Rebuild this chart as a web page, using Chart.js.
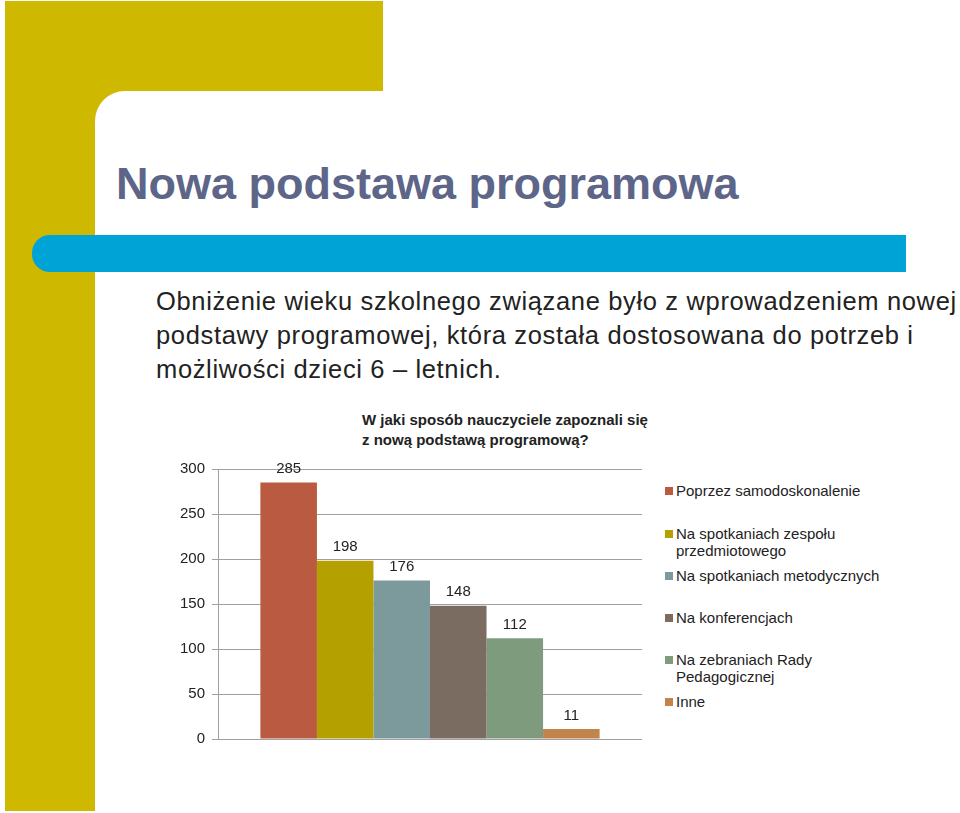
<!DOCTYPE html>
<html>
<head>
<meta charset="utf-8">
<script src="https://cdn.jsdelivr.net/npm/chart.js@4/dist/chart.umd.min.js"></script>
<style>
    body { margin: 0; width: 960px; height: 813px; background: #fff; position: relative; overflow: hidden;
           font-family: "Liberation Sans", Arial, sans-serif; }
    .deco { position: absolute; }
    #frameTop { left: 5px; top: 1px; width: 378px; height: 90px; background: #cfb800; }
    #frameLeft { left: 5px; top: 1px; width: 90px; height: 810px; background: #cfb800; }
    #cornerFill { left: 95px; top: 91px; width: 30px; height: 30px; background: #cfb800; }
    #corner { left: 95px; top: 91px; width: 60px; height: 60px; background: #fff; border-top-left-radius: 30px; }
    #blueBar { left: 32px; top: 235px; width: 874px; height: 37px; background: #00a3d5; border-radius: 18px 0 0 18px; }
    #title { position: absolute; left: 116px; top: 158px; font-size: 45px; font-weight: bold; color: #5d6588; white-space: nowrap; }
    #body { position: absolute; left: 156px; top: 284px; font-size: 25.5px; letter-spacing: 0.65px; line-height: 34px; color: #222; white-space: nowrap; }
    #chartTitle { position: absolute; left: 362px; top: 410px; font-size: 15px; font-weight: bold; line-height: 20px; color: #222; }
    #chartBox { position: absolute; left: 150px; top: 440px; width: 510px; height: 315px; }
    #legend { position: absolute; left: 665px; top: 482px; font-size: 15px; color: #222; }
    .item { position: absolute; left: 0; white-space: nowrap; line-height: 17px; }
    .sw { display: inline-block; width: 8px; height: 8px; margin-right: 3px; vertical-align: 1px; }
    .txt { display: inline-block; vertical-align: top; }
</style>
</head>
<body>
<div class="deco" id="frameTop"></div>
<div class="deco" id="frameLeft"></div>
<div class="deco" id="cornerFill"></div>
<div class="deco" id="corner"></div>
<div class="deco" id="blueBar"></div>
<div id="title">Nowa podstawa programowa</div>
<div id="body">Obniżenie wieku szkolnego związane było z wprowadzeniem nowej<br>podstawy programowej, która została dostosowana do potrzeb i<br>możliwości dzieci 6 – letnich.</div>
<div id="chartTitle">W jaki sposób nauczyciele zapoznali się<br>z nową podstawą programową?</div>
<div id="chartBox"><canvas id="chart"></canvas></div>
<div id="legend"></div>

<script>
const categories = [
    "Poprzez samodoskonalenie",
    "Na spotkaniach zespołu przedmiotowego",
    "Na spotkaniach metodycznych",
    "Na konferencjach",
    "Na zebraniach Rady Pedagogicznej",
    "Inne"
];
// legend lines as wrapped in the picture
const legendLines = [
    ["Poprzez samodoskonalenie"],
    ["Na spotkaniach zespołu", "przedmiotowego"],
    ["Na spotkaniach metodycznych"],
    ["Na konferencjach"],
    ["Na zebraniach Rady", "Pedagogicznej"],
    ["Inne"]
];
const values = [285, 198, 176, 148, 112, 11];
const colors = ["#ba5a41", "#b4a100", "#7c9a9b", "#7b6c61", "#7f9b7e", "#c1844b"];
const yTicks = [0, 50, 100, 150, 200, 250, 300];
const legendTops = [0, 43, 85, 127, 169, 211];

const valueLabels = {
    id: "valueLabels",
    afterDatasetsDraw(chart) {
        const c = chart.ctx;
        c.save();
        c.font = "15px 'Liberation Sans', Arial, sans-serif";
        c.fillStyle = "#222";
        c.textAlign = "center";
        c.textBaseline = "bottom";
        chart.data.datasets.forEach((ds, i) => {
            const bar = chart.getDatasetMeta(i).data[0];
            c.fillText(ds.data[0], bar.x, bar.y - 6);
        });
        c.restore();
    }
};

new Chart(document.getElementById("chart"), {
    type: "bar",
    data: {
        labels: [""],
        datasets: categories.map((name, i) => ({
            label: name,
            data: [values[i]],
            backgroundColor: colors[i],
            categoryPercentage: 0.8,
            barPercentage: 1.0
        }))
    },
    options: {
        responsive: true,
        maintainAspectRatio: false,
        animation: false,
        layout: { padding: { left: 0, right: 18, top: 29, bottom: 6 } },
        plugins: { legend: { display: false }, tooltip: { enabled: false } },
        scales: {
            x: { display: false },
            y: {
                min: 0, max: 300,
                afterBuildTicks: s => { s.ticks = yTicks.map(v => ({ value: v })); },
                afterFit: s => { s.width = 68; },
                ticks: { color: "#222", padding: 7, font: { size: 15, family: "'Liberation Sans', Arial, sans-serif" } },
                grid: { color: "#a0a0a0", tickLength: 6 },
                border: { color: "#a0a0a0" }
            }
        }
    },
    plugins: [valueLabels]
});

const legend = document.getElementById("legend");
legendLines.forEach((lines, i) => {
    const d = document.createElement("div");
    d.className = "item";
    d.style.top = legendTops[i] + "px";
    d.innerHTML = '<span class="sw" style="background:' + colors[i] + '"></span><span class="txt">' + lines.join("<br>") + "</span>";
    legend.appendChild(d);
});
</script>
</body>
</html>
